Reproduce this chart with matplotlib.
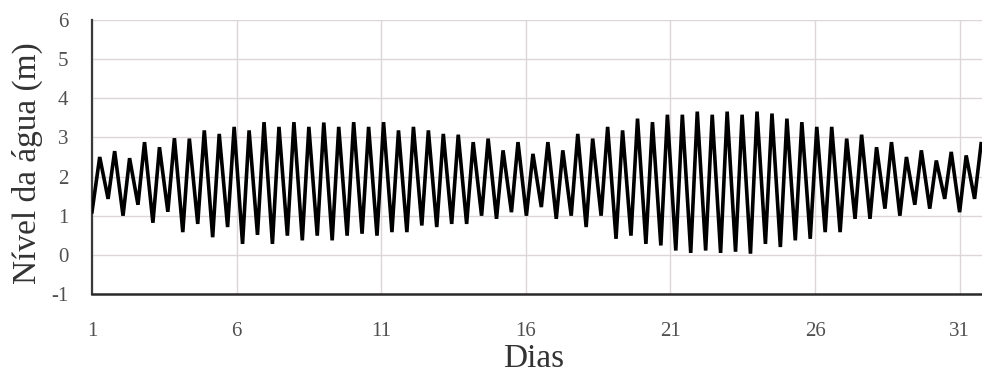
import numpy as np
import matplotlib
matplotlib.use("Agg")
import matplotlib.pyplot as plt

# ── Data: tide level extremes ────────────────────────────────────────────────
start_day   = 1.0
start_level = 1.1
first_high  = 1.266      # day of first high water
half_cycle  = 0.5165     # days between successive high waters
low_lag     = 0.29       # days from a high to the following low

high_water = [2.50, 2.65, 2.47, 2.88, 2.75, 2.98, 2.97, 3.18, 3.09, 3.27,
              3.18, 3.39, 3.27, 3.39, 3.27, 3.38, 3.27, 3.39, 3.27, 3.39,
              3.18, 3.27, 3.18, 3.09, 3.07, 2.88, 2.97, 2.67, 2.88, 2.58,
              2.88, 2.67, 3.09, 2.97, 3.27, 3.18, 3.48, 3.39, 3.58, 3.58,
              3.66, 3.58, 3.66, 3.58, 3.66, 3.61, 3.48, 3.39, 3.27, 3.27,
              2.97, 3.07, 2.75, 2.88, 2.50, 2.67, 2.41, 2.63, 2.54, 2.84]

low_water = [1.43, 1.00, 1.28, 0.82, 1.10, 0.58, 0.79, 0.45, 0.71, 0.28,
             0.51, 0.28, 0.49, 0.37, 0.49, 0.37, 0.49, 0.54, 0.49, 0.58,
             0.58, 0.75, 0.71, 0.79, 0.79, 1.00, 0.92, 1.09, 1.00, 1.22,
             0.92, 1.00, 0.71, 1.00, 0.41, 0.49, 0.28, 0.24, 0.11, 0.05,
             0.11, 0.05, 0.08, 0.03, 0.28, 0.20, 0.37, 0.41, 0.58, 0.58,
             0.92, 0.92, 1.18, 1.00, 1.28, 1.18, 1.43, 1.09, 1.43]

x_ticks = [1, 6, 11, 16, 21, 26, 31]
y_ticks = [-1, 0, 1, 2, 3, 4, 5, 6]

# ── Build the series: start point, then alternating high / low ───────────────
days = [start_day]
level = [start_level]
for i, h in enumerate(high_water):
    t_high = first_high + i * half_cycle
    days.append(t_high)
    level.append(h)
    if i < len(low_water):
        days.append(t_high + low_lag)
        level.append(low_water[i])

# ── Plot ─────────────────────────────────────────────────────────────────────
plt.rcParams["font.family"] = ["Liberation Serif", "DejaVu Serif"]
plt.rcParams["axes.unicode_minus"] = False

fig = plt.figure(figsize=(9.82, 3.83), dpi=100, facecolor="white")
ax = fig.add_axes([0.0937, 0.2324, 0.9063, 0.7154])

ax.plot(days, level, color="black", lw=2.6, solid_joinstyle="miter", zorder=3)

ax.set_xlim(1, 31.77)
ax.set_ylim(-1, 6)
ax.set_xticks(x_ticks)
ax.set_yticks(y_ticks)
ax.grid(True, color="#dcd6d6", lw=1.0)
ax.set_axisbelow(True)

for side in ("top", "right"):
    ax.spines[side].set_visible(False)
ax.spines["left"].set_color("#3a3a3a")
ax.spines["left"].set_linewidth(1.6)
ax.spines["bottom"].set_color("#2a2a2a")
ax.spines["bottom"].set_linewidth(1.8)

ax.tick_params(axis="both", length=0, labelsize=15, labelcolor="#505050")
ax.tick_params(axis="x", pad=20)
ax.tick_params(axis="y", pad=17)

ax.set_xlabel("Dias", fontsize=24, color="#333333")
ax.xaxis.set_label_coords(0.4966, -0.265)
ax.xaxis.label.set_va("baseline")

ax.set_ylabel("Nível da água (m)", fontsize=24, color="#333333")
ax.yaxis.set_label_coords(-0.073, 0.476)
ax.yaxis.label.set_va("center")
ax.yaxis.label.set_ha("center")

fig.savefig("out.png", dpi=100, facecolor="white")
